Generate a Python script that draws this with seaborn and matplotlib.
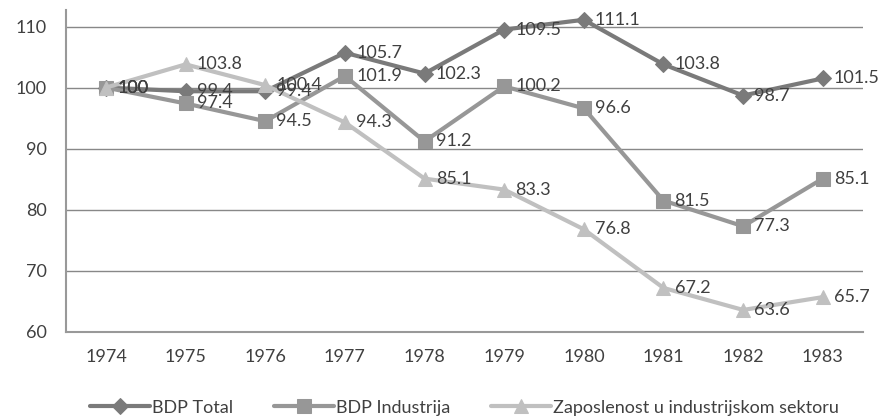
import numpy as np
import pandas as pd
import matplotlib
matplotlib.use("Agg")
import matplotlib.pyplot as plt
import seaborn as sns

years = ["1974", "1975", "1976", "1977", "1978", "1979", "1980", "1981", "1982", "1983"]
bdp_total = [100, 99.4, 99.4, 105.7, 102.3, 109.5, 111.1, 103.8, 98.7, 101.5]
bdp_industrija = [100, 97.4, 94.5, 101.9, 91.2, 100.2, 96.6, 81.5, 77.3, 85.1]
zaposlenost = [100, 103.8, 100.4, 94.3, 85.1, 83.3, 76.8, 67.2, 63.6, 65.7]

series_names = ["BDP Total", "BDP Industrija", "Zaposlenost u industrijskom sektoru"]
series_vals = [bdp_total, bdp_industrija, zaposlenost]
colors = ["#7a7a7a", "#979797", "#c0c0c0"]
markers = ["D", "s", "^"]
msizes = [8, 10, 10]

sns.set_style("white")
plt.rcParams["font.family"] = ["Lato", "DejaVu Sans"]

fig = plt.figure(figsize=(8.82, 4.17), dpi=100)
ax = fig.add_axes([0.075, 0.204, 0.903, 0.772])

x = np.arange(len(years))
for name, vals, c, m, ms in zip(series_names, series_vals, colors, markers, msizes):
    df = pd.DataFrame({"x": x, "y": vals})
    sns.lineplot(data=df, x="x", y="y", ax=ax, color=c, marker=m, markersize=ms,
                 markeredgecolor=c, linewidth=3, label=name)
    for xi, yi in zip(x, vals):
        ax.annotate(f"{yi:g}", (xi, yi), xytext=(8, 0), textcoords="offset points",
                    ha="left", va="center", fontsize=13, color="#404040")

ax.set_xlim(-0.5, len(years) - 0.5)
ax.set_ylim(60, 112.7)
ax.set_yticks([60, 70, 80, 90, 100, 110])
ax.set_xticks(x)
ax.set_xticklabels(years)
ax.tick_params(axis="both", labelsize=13, colors="#404040", length=0)
ax.tick_params(axis="x", pad=12)
ax.tick_params(axis="y", pad=14)
ax.yaxis.grid(True, color="#888888", linewidth=1)
ax.set_axisbelow(True)
ax.set_xlabel("")
ax.set_ylabel("")
for s in ["top", "right"]:
    ax.spines[s].set_visible(False)
for s in ["left", "bottom"]:
    ax.spines[s].set_color("#999999")
    ax.spines[s].set_linewidth(1.5)

ax.legend(loc="upper center", bbox_to_anchor=(0.5, -0.16), ncol=3, frameon=False,
          fontsize=13, handlelength=3.3, handletextpad=0.1, columnspacing=2.3,
          labelcolor="#404040")

fig.savefig("out.png", dpi=100)
